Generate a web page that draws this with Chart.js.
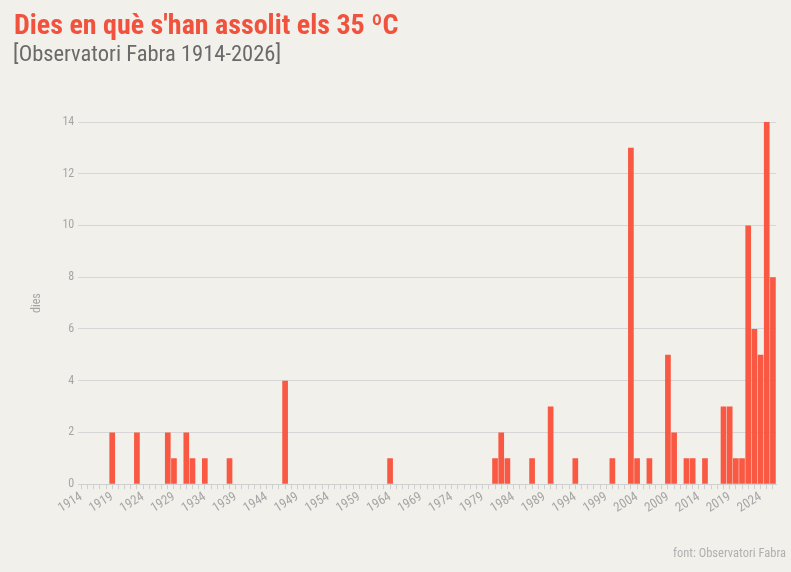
<!DOCTYPE html>
<html lang="ca">
<head>
  <meta charset="UTF-8">
  <title>Dies de 35 ºC</title>
  <script src="https://cdn.jsdelivr.net/npm/chart.js"></script>
  <style>
    html, body {
      margin: 0;
      padding: 0;
      background: #f2f0eb;
      font-family: "Roboto Condensed", "Liberation Sans Narrow", Roboto, sans-serif;
    }
    #wrap {
      position: relative;
      width: 791px;
      height: 572px;
      overflow: hidden;
    }
    h1 {
      position: absolute;
      left: 14px;
      top: 8px;
      margin: 0;
      font-size: 28px;
      font-weight: 700;
      color: #f0523d;
      white-space: nowrap;
    }
    .sub {
      position: absolute;
      left: 13px;
      top: 40px;
      font-size: 22.5px;
      color: #6a6a6a;
      white-space: nowrap;
    }
    .src {
      position: absolute;
      right: 5px;
      top: 545px;
      font-size: 12.5px;
      color: #b0b0b0;
      white-space: nowrap;
    }
    #box {
      position: absolute;
      left: 0;
      top: 0;
      width: 791px;
      height: 572px;
    }
  </style>
</head>
<body>
  <div id="wrap">
    <div id="box"><canvas id="chart"></canvas></div>
    <h1>Dies en què s'han assolit els 35 ºC</h1>
    <div class="sub">[Observatori Fabra 1914-2026]</div>
    <div class="src">font: Observatori Fabra</div>
  </div>

  <script>
    // anys amb algun dia >= 35 ºC i nombre de dies
    const firstYear = 1914;
    const lastYear = 2026;
    const hotYears = [1919, 1923, 1928, 1929, 1931, 1932, 1934, 1938, 1947, 1964,
                      1981, 1982, 1983, 1987, 1990, 1994, 2000, 2003, 2004, 2006,
                      2009, 2010, 2012, 2013, 2015, 2018, 2019, 2020, 2021, 2022,
                      2023, 2024, 2025, 2026];
    const hotDays = [2, 2, 2, 1, 2, 1, 1, 1, 4, 1,
                     1, 2, 1, 1, 3, 1, 1, 13, 1, 1,
                     5, 2, 1, 1, 1, 3, 3, 1, 1, 10,
                     6, 5, 14, 8];
    const yTicks = [0, 2, 4, 6, 8, 10, 12, 14];

    const labels = [];
    for (let y = firstYear; y <= lastYear; y++) labels.push(String(y));
    const values = labels.map(l => {
      const i = hotYears.indexOf(Number(l));
      return i >= 0 ? hotDays[i] : 0;
    });

    const font = "'Roboto Condensed', 'Liberation Sans Narrow', Roboto, sans-serif";

    new Chart(document.getElementById('chart'), {
      type: 'bar',
      data: {
        labels: labels,
        datasets: [{
          label: 'dies',
          data: values,
          backgroundColor: '#f95842',
          borderWidth: 0,
          categoryPercentage: 1,
          barPercentage: 0.92
        }]
      },
      options: {
        responsive: true,
        maintainAspectRatio: false,
        animation: false,
        layout: { padding: { top: 122, left: 30, right: 15, bottom: 56 } },
        plugins: {
          legend: { display: false },
          tooltip: { enabled: false }
        },
        scales: {
          x: {
            grid: { offset: false, drawOnChartArea: false, drawTicks: true, tickLength: 5, color: '#cfcfcf' },
            border: { color: '#cfcfcf' },
            ticks: {
              autoSkip: false,
              minRotation: 32,
              maxRotation: 32,
              padding: 0,
              color: '#a5a5a5',
              font: { family: font, size: 13 },
              callback: function (v, i) {
                const yr = firstYear + i;
                return (yr - firstYear) % 5 === 0 ? String(yr) : '';
              }
            }
          },
          y: {
            min: 0,
            max: 14,
            afterBuildTicks: axis => { axis.ticks = yTicks.map(v => ({ value: v })); },
            grid: { color: '#d6d6d6', drawTicks: false },
            border: { display: false },
            ticks: {
              padding: 4,
              color: '#a5a5a5',
              font: { family: font, size: 12 }
            },
            title: {
              display: true,
              text: 'dies',
              color: '#a5a5a5',
              font: { family: font, size: 12 },
              padding: { top: 0, bottom: 14 }
            }
          }
        }
      }
    });
  </script>
</body>
</html>
